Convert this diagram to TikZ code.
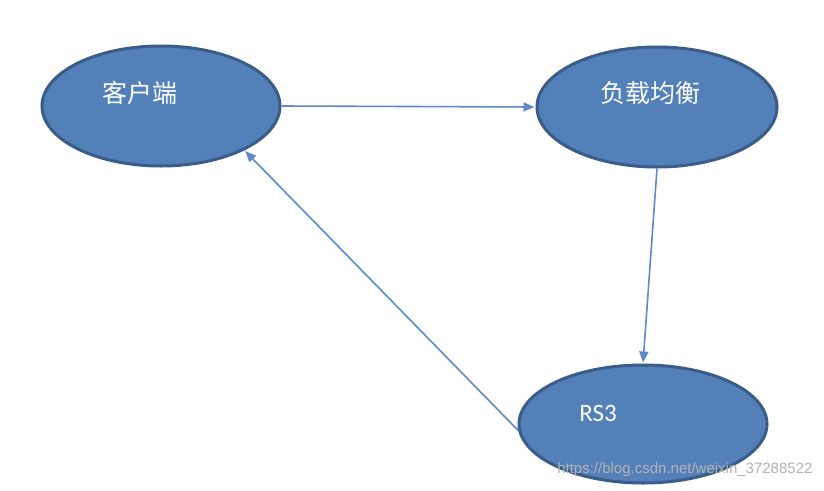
\documentclass[tikz,border=0pt]{standalone}
\usepackage{fontspec}
\setmainfont{Carlito}
\newfontfamily\cjk{Noto Sans CJK SC}
\newfontfamily\markfont{Liberation Sans}
\usepackage{xcolor}
\usetikzlibrary{arrows.meta, positioning, shapes.geometric}

\definecolor{nodefill}{RGB}{84,128,186}
\definecolor{nodeline}{RGB}{58,92,136}
\definecolor{linkblue}{RGB}{96,138,198}

\tikzset{
  bubble/.style={ellipse, fill=nodefill, draw=nodeline, line width=3pt,
    minimum width=238pt, minimum height=120pt, inner sep=0pt},
  caption/.style={text=white, font=\fontsize{25}{29}\selectfont},
  link/.style={draw=linkblue, line width=1.6pt,
    -{Triangle[length=11pt,width=9pt]}, shorten >=1pt}
}

\begin{document}
\begin{tikzpicture}[x=1pt, y=-1pt]
  \useasboundingbox[fill=white] (0,0) rectangle (824,490);
  % the three parts
  \node[bubble] (client) at (161,106) {};
  \node[bubble, minimum width=240pt] (balancer) at (657,107) {};
  \node[bubble, minimum width=248pt, minimum height=118pt] (rs) at (643,424) {};
  \node[caption] (clienttext) at (140,93) {\cjk 客户端};
  \node[caption] (balancertext) at (650,93) {\cjk 负载均衡};
  \node[caption] (rstext) at (598,413) {RS3};
  % request path
  \draw[link] (client.east) -- (balancer.west);
  \draw[link] (balancer.south) -- (rs.north);
  \draw[link] (rs.183) -- (client.-28);
  % watermark
  \node[text=black!30, font=\markfont\fontsize{15}{17}\selectfont, anchor=east]
    (mark) at (816,470) {https://blog.csdn.net/weixin\_37288522};
\end{tikzpicture}
\end{document}
